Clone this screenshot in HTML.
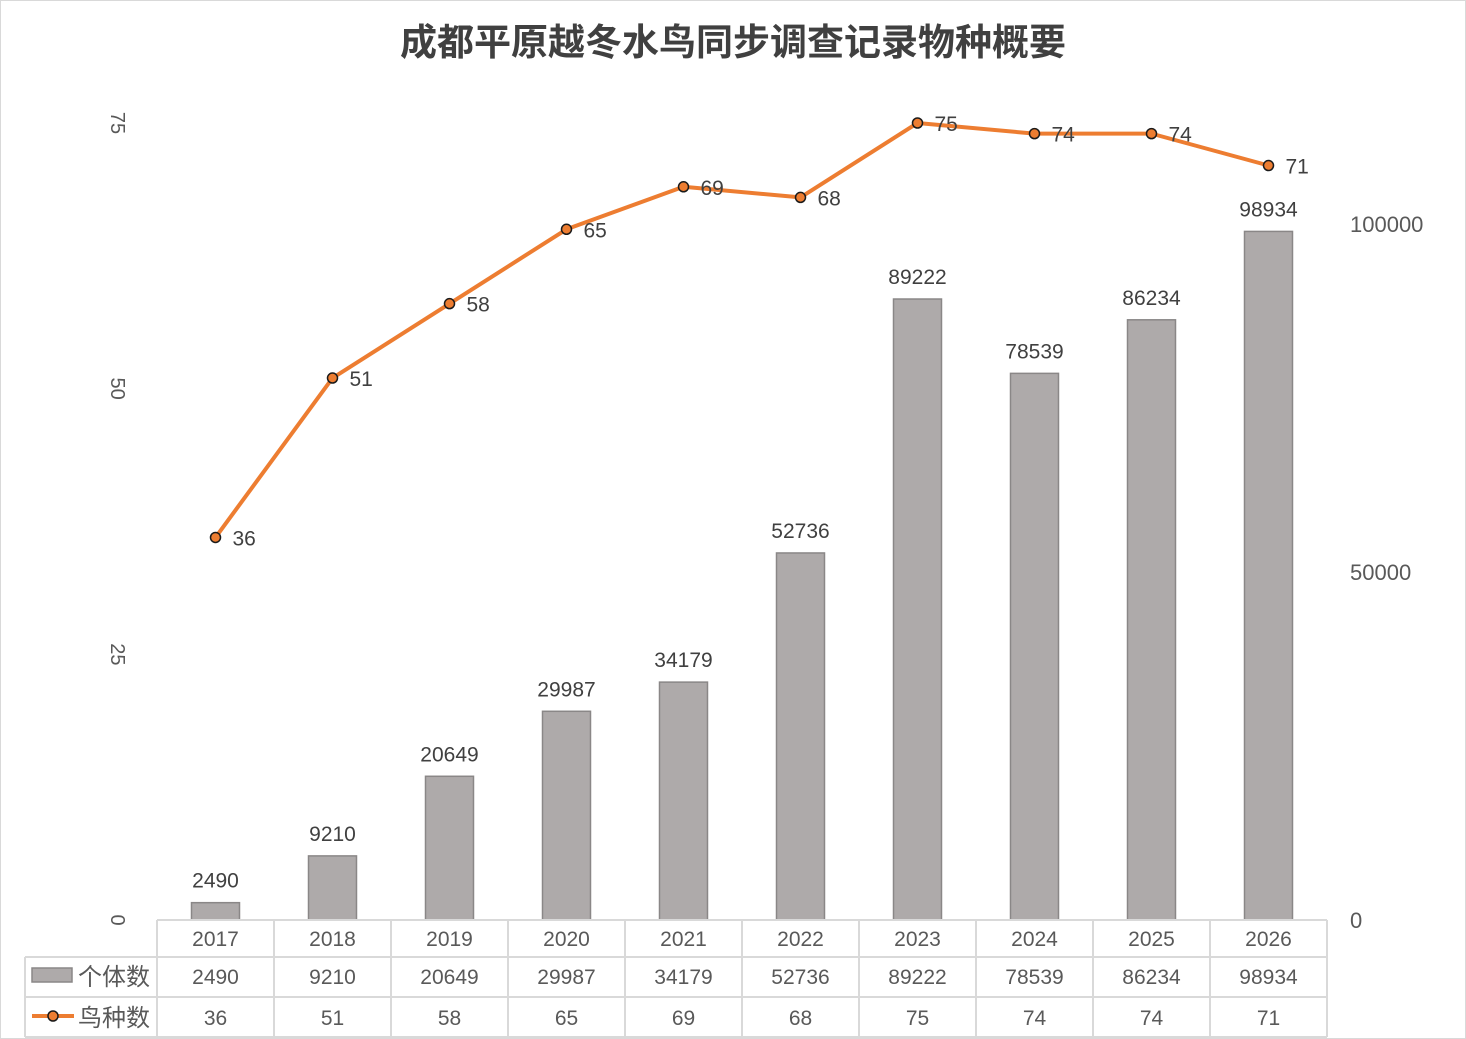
<!DOCTYPE html>
<html><head><meta charset="utf-8"><style>
html,body{margin:0;padding:0;background:#fff}
svg{display:block;font-family:"Liberation Sans","Noto Sans CJK SC",sans-serif}
</style></head><body>
<svg id="c" width="1466" height="1039" viewBox="0 0 1466 1039">
<rect x="0.5" y="0.5" width="1465" height="1038" fill="#fff" stroke="#d9d9d9"/>
<text x="733" y="55" text-anchor="middle" font-size="37" font-weight="600" fill="#404040" font-family="'Noto Sans CJK SC',sans-serif">成都平原越冬水鸟同步调查记录物种概要</text>
<g id="g"></g>
</svg>
<script>
const years=["2017","2018","2019","2020","2021","2022","2023","2024","2025","2026"];
const individuals=[2490,9210,20649,29987,34179,52736,89222,78539,86234,98934];
const species=[36,51,58,65,69,68,75,74,74,71];
const leftTicks=[0,25,50,75];
const rightTicks=[0,50000,100000];
const NS="http://www.w3.org/2000/svg";
const g=document.getElementById('g');
const x0=157,cw=117,y0=920;
const xc=i=>x0+cw*(i+0.5);
const yL=v=>y0-v*(797/75);
const yR=v=>y0-v*(696/100000);
function mk(t,a,txt){const e=document.createElementNS(NS,t);for(const k in a)e.setAttribute(k,a[k]);if(txt!==undefined)e.textContent=txt;g.appendChild(e);return e;}
const col="#595959";
leftTicks.forEach(v=>{const y=yL(v);const e=mk('text',{x:117,y:y,transform:`rotate(90 117 ${y})`,'text-anchor':'middle','dominant-baseline':'central','font-size':20,fill:col},String(v));

});
rightTicks.forEach(v=>{const e=mk('text',{x:1350,y:yR(v)+8,'font-size':22,fill:col},String(v));

});
individuals.forEach((v,i)=>{const y=yR(v);const b=mk('rect',{x:xc(i)-24,y:y,width:48,height:y0-y,fill:'#aeaaaa',stroke:'#8a8787','stroke-width':1.5});


const t=mk('text',{x:xc(i),y:y-15,'text-anchor':'middle','font-size':21,fill:'#404040'},String(v));

});
const pl=mk('polyline',{points:species.map((v,i)=>xc(i)+','+yL(v)).join(' '),fill:'none',stroke:'#ed7d31','stroke-width':4,'stroke-linejoin':'round'});


species.forEach((v,i)=>{const p=mk('circle',{cx:xc(i),cy:yL(v),r:5,fill:'#ed7d31',stroke:'#1a1a1a','stroke-width':1.5});


const t=mk('text',{x:xc(i)+17,y:yL(v)+8,'font-size':21,fill:'#404040'},String(v));

});
const gc='#d9d9d9';
[[x0,920,1327,920],[25,957,1327,957],[25,997,1327,997],[25,1037,1327,1037]].forEach(l=>{const e=mk('line',{x1:l[0],y1:l[1],x2:l[2],y2:l[3],stroke:gc,'stroke-width':2});

});
const v0=mk('line',{x1:25,y1:957,x2:25,y2:1037,stroke:gc,'stroke-width':2});


for(let i=0;i<=10;i++){const e=mk('line',{x1:x0+cw*i,y1:920,x2:x0+cw*i,y2:1037,stroke:gc,'stroke-width':2});

}
years.forEach((y,i)=>{
const a=mk('text',{x:xc(i),y:946,'text-anchor':'middle','font-size':21,fill:col},y);


const b=mk('text',{x:xc(i),y:984,'text-anchor':'middle','font-size':21,fill:col},String(individuals[i]));


const c=mk('text',{x:xc(i),y:1025,'text-anchor':'middle','font-size':21,fill:col},String(species[i]));

});
const lk1=mk('rect',{x:32,y:968,width:40,height:14,fill:'#aeaaaa',stroke:'#8a8787','stroke-width':1.5});


const lt1=mk('text',{x:78,y:985,'font-size':24,fill:col,'font-family':"'Noto Sans CJK SC',sans-serif"},'个体数');


const lk2=mk('line',{x1:32,y1:1016,x2:74,y2:1016,stroke:'#ed7d31','stroke-width':4});


const lk3=mk('circle',{cx:53,cy:1016,r:5,fill:'#ed7d31',stroke:'#1a1a1a','stroke-width':1.5});


const lt2=mk('text',{x:78,y:1026,'font-size':24,fill:col,'font-family':"'Noto Sans CJK SC',sans-serif"},'鸟种数');


</script>
</body></html>
